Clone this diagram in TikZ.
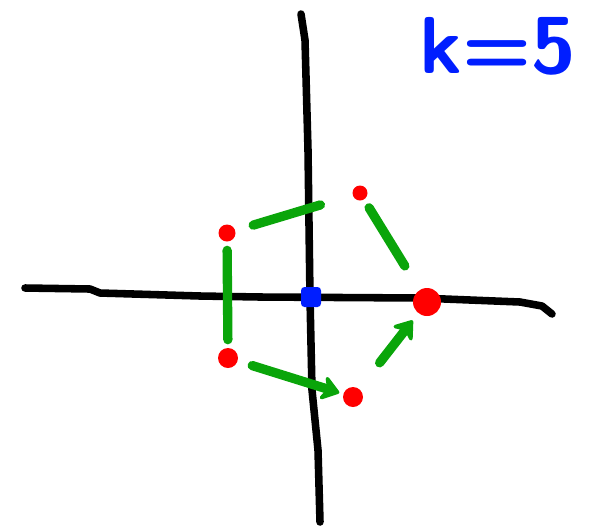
\documentclass[tikz,border=0pt]{standalone}
\usepackage{tikz}
\usetikzlibrary{arrows.meta,positioning}
\definecolor{penblue}{RGB}{0,30,255}
\definecolor{pengreen}{RGB}{10,165,10}
\definecolor{penred}{RGB}{255,0,0}

\begin{document}
\begin{tikzpicture}[x=0.02cm, y=-0.02cm,
    axis/.style={line width=4.3pt, black, line cap=round, line join=round},
    pt/.style={circle, fill=penred, inner sep=0pt, minimum size=#1},
    pt/.default=0.32cm,
    origin/.style={rectangle, rounded corners=2pt, fill=penblue, inner sep=0pt, minimum size=0.4cm},
    hop/.style={line width=5.3pt, pengreen, line cap=round},
    hoparr/.style={hop, -{Stealth[length=4.2mm, width=6mm, round]}}
]
    \useasboundingbox (0,0) rectangle (592,529);

    % axes
    \draw[axis] (25,288) -- (90,289) -- (100,293) -- (200,296) -- (260,297) -- (420,298)
        -- (520,302) -- (542,306) -- (552,314);
    \draw[axis] (301,14) -- (305,40) -- (308,150) -- (310,298) -- (312,390)
        -- (318,450) -- (320,522);

    \node[origin] (O) at (311,297) {};

    \node[pt=0.34cm] (A) at (227,233) {};
    \node[pt=0.3cm]  (B) at (360,193) {};
    \node[pt=0.56cm] (C) at (427,302) {};
    \node[pt=0.4cm]  (D) at (228,358) {};
    \node[pt=0.4cm]  (E) at (353,397) {};

    \draw[hop, shorten <=0.37cm, shorten >=0.67cm] (A) -- (B);
    \draw[hop, shorten <=0.19cm, shorten >=0.56cm] (B) -- (C);
    \draw[hop, shorten <=0.17cm, shorten >=0.16cm] (A) -- (D);
    \draw[hoparr, shorten <=0.3cm, shorten >=0.08cm] (D) -- (E);
    \draw[hoparr, shorten <=0.66cm, shorten >=0.18cm] (E) -- (C);

    \node[penblue, font=\sffamily\bfseries\fontsize{46}{46}\selectfont] (K) at (498,46) {k=5};
\end{tikzpicture}
\end{document}
